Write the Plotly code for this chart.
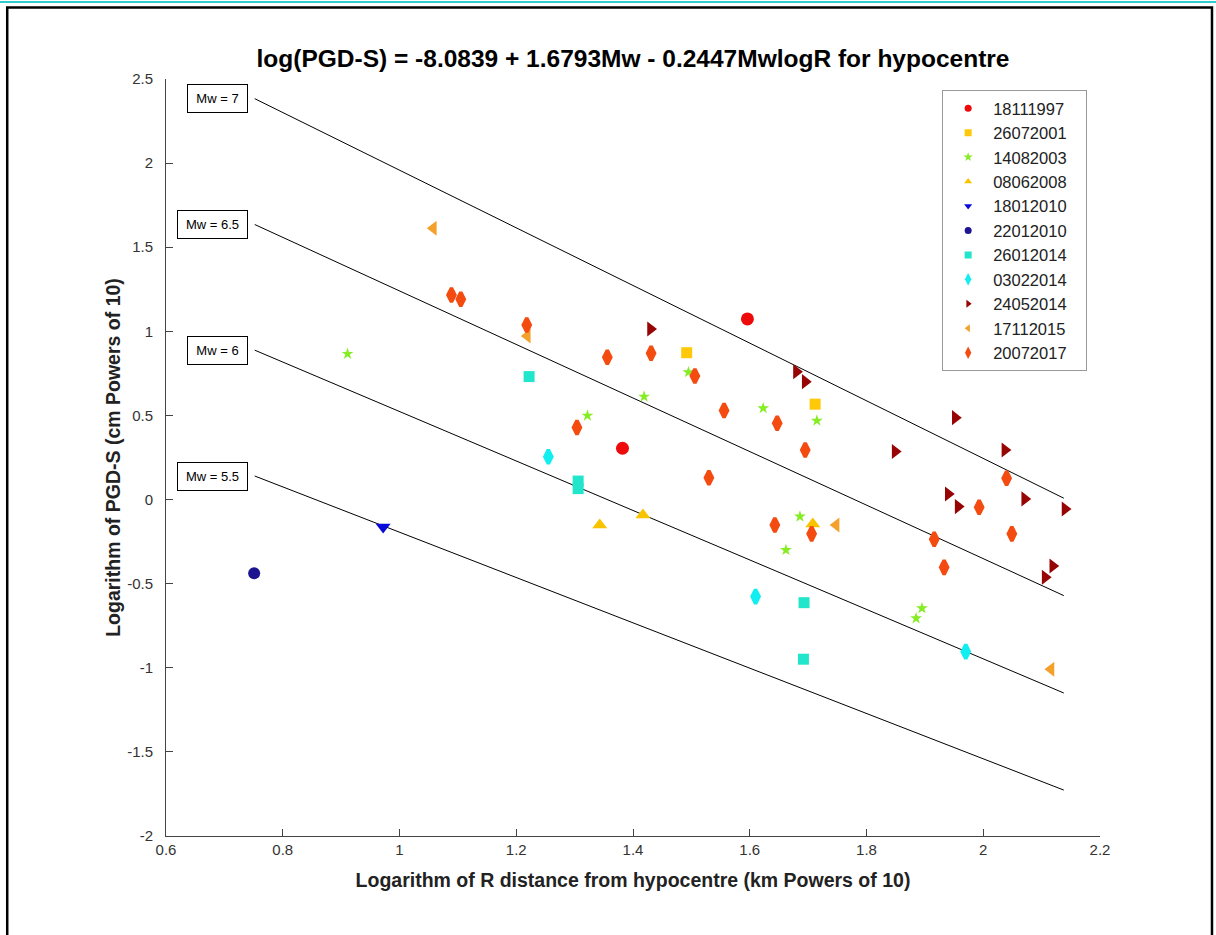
import plotly.graph_objects as go

# event series: (logR, logPGD)
ev_18111997_x = [1.596, 1.382]
ev_18111997_y = [1.074, 0.305]
ev_26072001_x = [1.492, 1.712]
ev_26072001_y = [0.873, 0.567]
ev_14082003_x = [0.911, 1.322, 1.419, 1.495, 1.623, 1.715, 1.686, 1.662, 1.895, 1.885]
ev_14082003_y = [0.866, 0.499, 0.612, 0.757, 0.543, 0.469, -0.101, -0.300, -0.646, -0.706]
ev_08062008_x = [1.343, 1.417, 1.708]
ev_08062008_y = [-0.151, -0.092, -0.145]
ev_18012010_x = [0.972]
ev_18012010_y = [-0.163]
ev_22012010_x = [0.751]
ev_22012010_y = [-0.438]
ev_26012014_x = [1.222, 1.306, 1.306, 1.693, 1.692]
ev_26012014_y = [0.731, 0.110, 0.065, -0.613, -0.949]
ev_03022014_x = [1.255, 1.610, 1.970]
ev_03022014_y = [0.255, -0.577, -0.904]
ev_24052014_x = [1.430, 1.680, 1.695, 1.952, 1.849, 2.037, 1.940, 1.957, 2.071, 2.140, 2.119, 2.106]
ev_24052014_y = [1.014, 0.760, 0.701, 0.487, 0.285, 0.295, 0.033, -0.042, 0.004, -0.056, -0.395, -0.462]
ev_17112015_x = [1.058, 1.219, 1.748, 2.116]
ev_17112015_y = [1.613, 0.973, -0.151, -1.009]
ev_20072017_x = [1.089, 1.105, 1.218, 1.356, 1.431, 1.506, 1.304, 1.556, 1.647, 1.695,
                 1.530, 1.643, 1.706, 2.040, 1.993, 2.049, 1.916, 1.933]
ev_20072017_y = [1.216, 1.191, 1.038, 0.846, 0.870, 0.735, 0.428, 0.529, 0.454, 0.295,
                 0.130, -0.151, -0.204, 0.127, -0.046, -0.204, -0.236, -0.403]

# model lines for each magnitude
mw_labels = ['Mw = 7', 'Mw = 6.5', 'Mw = 6', 'Mw = 5.5']
line_x = [0.752, 2.138]
line_y_start = [2.383, 1.635, 0.888, 0.140]
line_y_end = [0.008, -0.571, -1.150, -1.727]

x_ticks = [0.6, 0.8, 1.0, 1.2, 1.4, 1.6, 1.8, 2.0, 2.2]
x_ticktext = ['0.6', '0.8', '1', '1.2', '1.4', '1.6', '1.8', '2', '2.2']
y_ticks = [2.5, 2, 1.5, 1, 0.5, 0, -0.5, -1, -1.5, -2]
y_ticktext = ['2.5', '2', '1.5', '1', '0.5', '0', '-0.5', '-1', '-1.5', '-2']

series = [
    ('18111997', ev_18111997_x, ev_18111997_y, 'circle', '#ee0a0a', 13),
    ('26072001', ev_26072001_x, ev_26072001_y, 'square', '#ffc808', 11),
    ('14082003', ev_14082003_x, ev_14082003_y, 'star', '#86ec24', 9),
    ('08062008', ev_08062008_x, ev_08062008_y, 'triangle-up', '#f8c400', 13),
    ('18012010', ev_18012010_x, ev_18012010_y, 'triangle-down', '#0a0ad8', 13),
    ('22012010', ev_22012010_x, ev_22012010_y, 'circle', '#1c1490', 12),
    ('26012014', ev_26012014_x, ev_26012014_y, 'square', '#22e6cc', 11),
    ('03022014', ev_03022014_x, ev_03022014_y, 'diamond-tall', '#10eef0', 10),
    ('24052014', ev_24052014_x, ev_24052014_y, 'triangle-right', '#960404', 13),
    ('17112015', ev_17112015_x, ev_17112015_y, 'triangle-left', '#f4a12c', 13),
    ('20072017', ev_20072017_x, ev_20072017_y, 'diamond-tall', '#f34b10', 10),
]

fig = go.Figure()

for y0, y1 in zip(line_y_start, line_y_end):
    fig.add_trace(go.Scatter(x=line_x, y=[y0, y1], mode='lines',
                             line=dict(color='black', width=1), showlegend=False, hoverinfo='skip'))

for name, xs, ys, sym, col, sz in series:
    lw = 3.5 if sym == 'diamond-tall' else 0
    fig.add_trace(go.Scatter(x=xs, y=ys, mode='markers', name=name, showlegend=False,
                             marker=dict(symbol=sym, color=col, size=sz, line=dict(color=col, width=lw))))
    # small legend marker, as in the original
    fig.add_trace(go.Scatter(x=[None], y=[None], mode='markers', name=name + '&nbsp;&nbsp;&nbsp;',
                             marker=dict(symbol=sym, color=col, size=7 if sym != 'diamond-tall' else 9)))

# labels at the start of the model lines
for lab, y0 in zip(mw_labels, line_y_start):
    fig.add_annotation(x=line_x[0], y=y0, text=lab, showarrow=False, xanchor='right', yanchor='middle',
                       xshift=-7, font=dict(size=13, color='black'), bgcolor='white',
                       bordercolor='black', borderwidth=1, borderpad=4,
                       width=61 if '.' in lab else 51, height=19)

# outer frame like the exported figure
fig.add_shape(type='line', xref='paper', yref='paper', x0=-0.2, x1=1.2, y0=1.1016, y1=1.1016,
              line=dict(color='#33cccc', width=2))
fig.add_shape(type='rect', xref='paper', yref='paper', x0=-0.17, x1=1.1199, y0=-0.15, y1=1.0944,
              line=dict(color='black', width=2.5))

axis_common = dict(showline=True, linecolor='#444444', linewidth=1, ticks='inside', ticklen=7,
                   tickcolor='#444444', showgrid=False, zeroline=False,
                   tickfont=dict(family='Liberation Sans, Arial', size=15, color='#333333'))

fig.update_layout(
    width=1216, height=935,
    margin=dict(l=166, r=116, t=79, b=99),
    paper_bgcolor='white', plot_bgcolor='white',
    font=dict(family='Liberation Sans, Arial', color='black'),
    title=dict(text='<b>log(PGD-S) = -8.0839 + 1.6793Mw - 0.2447MwlogR for hypocentre</b>',
               x=0.5, xref='paper', y=1 - 58 / 935, yref='container', yanchor='middle',
               font=dict(size=24.5, color='black')),
    xaxis=dict(range=[0.6, 2.2], tickvals=x_ticks, ticktext=x_ticktext,
               title=dict(text='<b>Logarithm of R distance from hypocentre (km Powers of 10)</b>',
                          font=dict(size=19.5, color='#222222'), standoff=16), **axis_common),
    yaxis=dict(range=[-2, 2.5], tickvals=y_ticks, ticktext=y_ticktext, ticklabelstandoff=9,
               title=dict(text='<b>Logarithm of PGD-S (cm Powers of 10)</b>',
                          font=dict(size=19.5, color='#222222'), standoff=1), **axis_common),
    legend=dict(x=0.831, y=0.9855, xanchor='left', yanchor='top', bgcolor='white',
                bordercolor='#999999', borderwidth=1, font=dict(size=16.5, color='#222222'),
                tracegroupgap=0, itemwidth=40),
)

fig.write_html("out.html", config={'displayModeBar': False},
               post_script="document.body.style.margin='0px';")
